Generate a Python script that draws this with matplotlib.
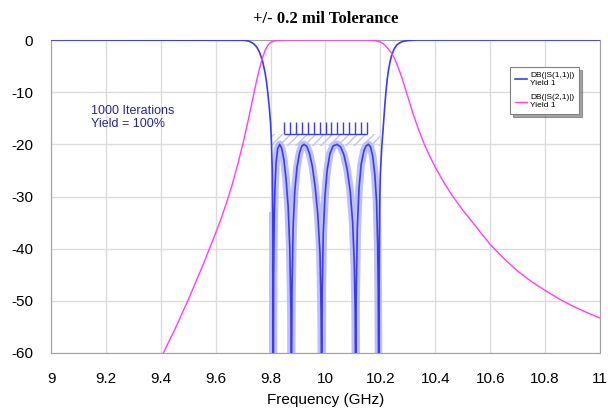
import matplotlib
matplotlib.use('Agg')
import matplotlib.pyplot as plt
import numpy as np

plt.rcParams['font.family'] = 'Liberation Sans'
plt.rcParams['axes.unicode_minus'] = False

# S21 (transmission)
freq_s21 = [9.40, 9.45, 9.50, 9.55, 9.60, 9.62, 9.64, 9.66, 9.68, 9.70, 9.72, 9.74, 9.75,
            9.76, 9.77, 9.78, 9.79, 9.80, 9.82, 9.85,
            10.15, 10.18, 10.20, 10.21, 10.22, 10.23, 10.24, 10.25, 10.26, 10.27, 10.28,
            10.29, 10.30, 10.32, 10.34, 10.36, 10.38, 10.40, 10.43, 10.46, 10.50, 10.55,
            10.60, 10.65, 10.70, 10.75, 10.80, 10.85, 10.90, 10.95, 11.00]
db_s21 = [-61.0, -55.6, -49.8, -43.6, -37.0, -34.2, -31.1, -27.7, -23.9, -19.7, -15.0, -10.0, -7.6,
          -5.4, -3.5, -2.0, -1.0, -0.45, -0.1, 0.0,
          0.0, -0.1, -0.4, -0.7, -1.2, -1.8, -2.5, -3.4, -4.6, -6.0, -7.5,
          -9.2, -10.9, -14.3, -17.3, -20.0, -22.3, -24.4, -27.2, -29.7, -32.6, -35.9,
          -39.2, -41.9, -44.3, -46.3, -48.0, -49.6, -51.0, -52.2, -53.3]

# S11 (return loss)
freq_s11 = [9.00, 9.70, 9.71, 9.72, 9.73, 9.74, 9.75, 9.76, 9.77, 9.78, 9.785, 9.79, 9.795,
            9.80, 9.803, 9.806, 9.808, 9.810,
            9.811, 9.813, 9.816, 9.820, 9.826, 9.833, 9.840, 9.848, 9.856, 9.864, 9.870, 9.874, 9.876,
            9.878, 9.882, 9.888, 9.896, 9.906, 9.914, 9.922, 9.932, 9.942, 9.952, 9.962, 9.972, 9.980,
            9.984, 9.986,
            9.988, 9.992, 9.998, 10.006, 10.016, 10.028, 10.042, 10.055, 10.067, 10.079, 10.090,
            10.099, 10.105, 10.108, 10.110,
            10.112, 10.116, 10.122, 10.130, 10.140, 10.148, 10.156, 10.164, 10.172, 10.180, 10.186,
            10.190, 10.192, 10.194,
            10.196, 10.198, 10.200, 10.205, 10.210, 10.215, 10.220, 10.225, 10.230, 10.235, 10.240,
            10.250, 10.260, 10.270, 10.280, 10.300, 10.330, 11.00]
db_s11 = [0.0, -0.05, -0.1, -0.2, -0.45, -0.8, -1.4, -2.4, -3.9, -6.3, -8.0, -10.2, -12.8,
          -16.0, -19.5, -25.0, -33.0, -70.0,
          -45.0, -35.0, -28.0, -23.5, -20.8, -20.0, -20.7, -22.8, -26.5, -32.0, -40.0, -52.0, -70.0,
          -48.0, -36.0, -29.0, -24.5, -21.5, -20.3, -20.0, -20.4, -21.8, -24.2, -28.0, -33.5, -41.0,
          -52.0, -70.0,
          -48.0, -37.0, -30.0, -25.0, -21.8, -20.3, -20.0, -20.5, -22.0, -24.8, -29.0,
          -35.0, -43.0, -52.0, -70.0,
          -48.0, -36.0, -28.5, -23.8, -21.2, -20.3, -20.0, -20.5, -22.3, -26.0, -31.0,
          -39.0, -48.0, -70.0,
          -40.0, -30.0, -25.5, -20.5, -17.0, -13.3, -10.0, -7.5, -5.6, -4.2, -3.1,
          -1.7, -0.95, -0.55, -0.3, -0.1, 0.0, 0.0]

# yield goal
goal_freq = [9.85, 10.15]
goal_db = -18.0
goal_band_freq = [9.80, 10.20]
goal_band_db = [-20.3, -18.0]

c_s11 = '#3b3bf5'
c_s21 = '#ff3cff'

fig = plt.figure(figsize=(6.08, 4.09), dpi=100)
ax = fig.add_axes([51/608, 1-353/409, 549/608, 313/409])

f11 = np.array(freq_s11)
d11 = np.array(db_s11)
inband = (f11 >= 9.808) & (f11 <= 10.194)

# tolerance spread of the monte carlo runs
ax.plot(f11[inband], d11[inband], color='#b2b6f4', lw=5.5, alpha=0.85, solid_capstyle='butt',
        solid_joinstyle='round', zorder=2)
ax.fill_between(goal_band_freq, goal_band_db[0], goal_band_db[1], facecolor='none',
                edgecolor='#bfc4f6', hatch='////', linewidth=0, zorder=2)
ax.hlines(goal_db, goal_freq[0], goal_freq[1], color=c_s11, lw=1, zorder=4)
ax.vlines(np.linspace(goal_freq[0], goal_freq[1], 15), goal_db, goal_db + 2.2, color=c_s11, lw=1, zorder=4)

ax.plot(freq_s11, db_s11, color=c_s11, lw=1.2, label='DB(|S(1,1)|)\nYield 1', zorder=3)
ax.plot(freq_s21, db_s21, color=c_s21, lw=1.0, label='DB(|S(2,1)|)\nYield 1', zorder=3)

ax.set_xlim(9, 11)
ax.set_ylim(-60, 0)
ax.set_xticks(np.arange(9, 11.01, 0.2))
ax.set_xticklabels(['9', '9.2', '9.4', '9.6', '9.8', '10', '10.2', '10.4', '10.6', '10.8', '11'])
ax.set_yticks(np.arange(-60, 1, 10))
ax.tick_params(axis='both', length=0, labelsize=11)
ax.tick_params(axis='x', pad=14)
ax.tick_params(axis='y', pad=13)
ax.grid(True, color='#dcdcdc', lw=1)
ax.set_axisbelow(True)
for s in ax.spines.values():
    s.set_color('#a0a0a0')

ax.set_xlabel('Frequency (GHz)', fontsize=11, labelpad=5)
ax.set_title('+/- 0.2 mil Tolerance', fontsize=12, fontweight='bold',
             family='Liberation Serif', pad=12)

ax.text(9.145, -12.5, '1000 Iterations\nYield = 100%', color='#2424a0', fontsize=9,
        va='top', ha='left', linespacing=1.05)

leg = ax.legend(loc='upper left', bbox_to_anchor=(0.836, 0.914), borderaxespad=0, fontsize=6,
                frameon=True, fancybox=False, shadow=True, edgecolor='#808080',
                handlelength=1.4, handletextpad=0.4, labelspacing=0.9, borderpad=0.6)
leg.get_frame().set_linewidth(0.8)

fig.savefig('out.png', dpi=100)
